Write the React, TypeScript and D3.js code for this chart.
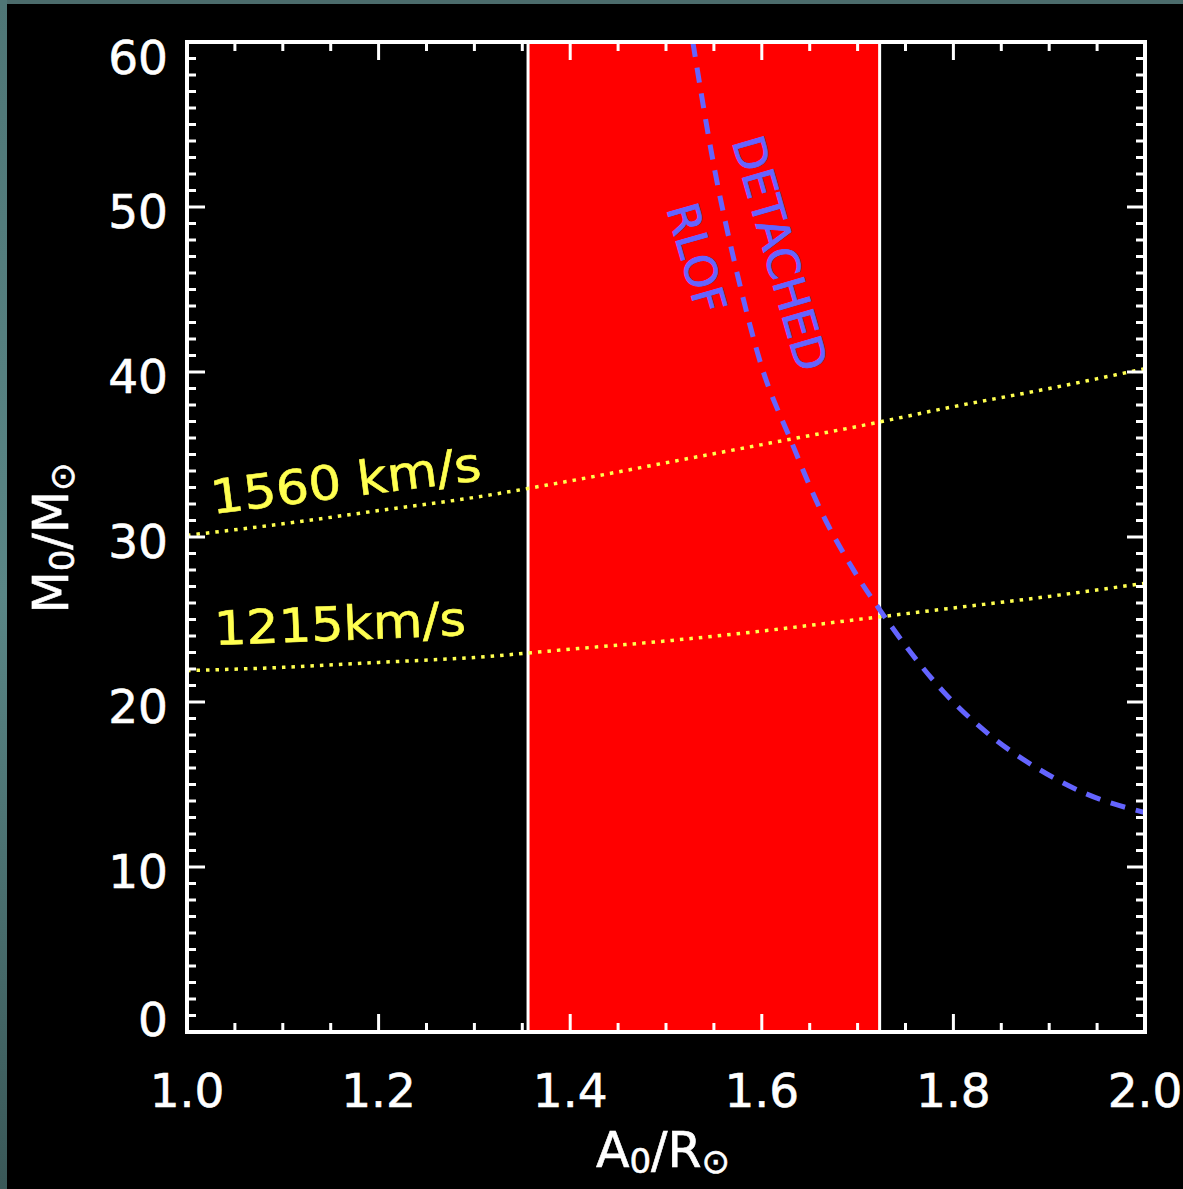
import React from "react";
import * as d3 from "d3";

const W = 1183;
const H = 1189;

const X_DOMAIN = [1.0, 2.0];
const Y_DOMAIN = [0, 60];
const xTickValues = [1.0, 1.2, 1.4, 1.6, 1.8, 2.0];
const xTickLabels = ["1.0", "1.2", "1.4", "1.6", "1.8", "2.0"];
const yTickValues = [0, 10, 20, 30, 40, 50, 60];
const yTickLabels = ["0", "10", "20", "30", "40", "50", "60"];

const bandEdges = [1.356, 1.723];

const velA = [1.0, 1.1, 1.2, 1.3, 1.4, 1.5, 1.6, 1.7, 1.8, 1.9, 2.0];
const vel1560M = [30.1, 30.8, 31.6, 32.4, 33.4, 34.5, 35.6, 36.7, 37.9, 39.0, 40.2];
const vel1215M = [21.9, 22.1, 22.4, 22.7, 23.2, 23.7, 24.3, 25.0, 25.7, 26.4, 27.2];

const rlofA = [1.528, 1.55, 1.575, 1.6, 1.63, 1.66, 1.7, 1.723, 1.79, 1.84, 1.89, 1.94, 2.0];
const rlofM = [60, 52.5, 45.8, 40.3, 35.9, 31.8, 27.6, 25.6, 20.6, 17.9, 15.9, 14.4, 13.3];

const FONT = "'DejaVu Sans', sans-serif";
const YELLOW = "#ffff50";
const BLUE = "#6464ff";

export default function App() {
  const x = d3.scaleLinear().domain(X_DOMAIN).range([187, 1145]);
  const y = d3.scaleLinear().domain(Y_DOMAIN).range([1032, 42]);
  const [x0, x1] = x.range();
  const [y0, y1] = y.range();

  const line = d3
    .line<[number, number]>()
    .x((d) => x(d[0]))
    .y((d) => y(d[1]))
    .curve(d3.curveMonotoneX);

  const p1560 = line(velA.map((a, i) => [a, vel1560M[i]] as [number, number])) || "";
  const p1215 = line(velA.map((a, i) => [a, vel1215M[i]] as [number, number])) || "";
  const pRlof = line(rlofA.map((a, i) => [a, rlofM[i]] as [number, number])) || "";

  const xMinor = d3.range(0, 21).map((i) => X_DOMAIN[0] + i * 0.05);
  const yMinor = d3.range(0, 61).map((i) => i);

  const MAJ = 18;
  const MIN = 9;

  const isMajorX = (v: number) => Math.abs(v * 5 - Math.round(v * 5)) < 1e-6;
  const isMajorY = (v: number) => v % 10 === 0;

  return (
    <svg
      width={W}
      height={H}
      style={{ position: "absolute", left: 0, top: 0, display: "block" }}
    >
      <defs>
        <linearGradient id="edge" x1="0" y1="0" x2="0" y2="1">
          <stop offset="0" stopColor="#4f7676" />
          <stop offset="0.5" stopColor="#5a8686" />
          <stop offset="1" stopColor="#3a5858" />
        </linearGradient>
        <clipPath id="plotClip">
          <rect x={x0} y={y1} width={x1 - x0} height={y0 - y1} />
        </clipPath>
      </defs>
      <rect x={0} y={0} width={W} height={H} fill="#000" />
      <rect x={0} y={0} width={W} height={4} fill="#4b6b6b" />
      <rect x={0} y={0} width={7} height={H} fill="url(#edge)" />

      {/* red band */}
      <rect
        x={x(bandEdges[0])}
        y={y1}
        width={x(bandEdges[1]) - x(bandEdges[0])}
        height={y0 - y1}
        fill="#ff0000"
      />
      {bandEdges.map((b, i) => (
        <line key={i} x1={x(b)} x2={x(b)} y1={y1} y2={y0} stroke="#fff" strokeWidth={3} />
      ))}

      <g clipPath="url(#plotClip)">
        <path d={p1560} fill="none" stroke={YELLOW} strokeWidth={3.5} strokeDasharray="3.5,6" />
        <path d={p1215} fill="none" stroke={YELLOW} strokeWidth={3.5} strokeDasharray="3.5,6" />
        <path d={pRlof} fill="none" stroke={BLUE} strokeWidth={5} strokeDasharray="15,11" />
      </g>

      {/* annotations */}
      <text
        transform={`translate(${x(1.619)},${y(47.2)}) rotate(74)`}
        textAnchor="middle"
        dominantBaseline="central"
        fill={BLUE}
        fontFamily={FONT}
        fontSize={44}
        stroke={BLUE}
        strokeWidth={0.8}
        textLength={242}
        lengthAdjust="spacingAndGlyphs"
      >
        DETACHED
      </text>
      <text
        transform={`translate(${x(1.532)},${y(46.9)}) rotate(74)`}
        textAnchor="middle"
        dominantBaseline="central"
        fill={BLUE}
        fontFamily={FONT}
        fontSize={44}
        stroke={BLUE}
        strokeWidth={0.8}
        textLength={112}
        lengthAdjust="spacingAndGlyphs"
      >
        RLOF
      </text>
      <text
        transform={`translate(${x(1.027)},${y(31.4)}) rotate(-7.2)`}
        fill={YELLOW}
        fontFamily={FONT}
        fontSize={47}
        stroke={YELLOW}
        strokeWidth={0.6}
        textLength={272}
        lengthAdjust="spacingAndGlyphs"
      >
        1560 km/s
      </text>
      <text
        transform={`translate(${x(1.029)},${y(23.45)}) rotate(-2.3)`}
        fill={YELLOW}
        fontFamily={FONT}
        fontSize={47}
        stroke={YELLOW}
        strokeWidth={0.6}
        textLength={252}
        lengthAdjust="spacingAndGlyphs"
      >
        1215km/s
      </text>

      {/* frame */}
      <rect x={x0} y={y1} width={x1 - x0} height={y0 - y1} fill="none" stroke="#fff" strokeWidth={4} />

      {/* x ticks bottom & top */}
      {xMinor.map((v, i) => {
        const len = isMajorX(v) ? MAJ : MIN;
        return (
          <g key={i}>
            <line x1={x(v)} x2={x(v)} y1={y0} y2={y0 - len} stroke="#fff" strokeWidth={3} />
            <line x1={x(v)} x2={x(v)} y1={y1} y2={y1 + len} stroke="#fff" strokeWidth={3} />
          </g>
        );
      })}
      {/* y ticks left & right */}
      {yMinor.map((v, i) => {
        const len = isMajorY(v) ? MAJ : MIN;
        return (
          <g key={i}>
            <line x1={x0} x2={x0 + len} y1={y(v)} y2={y(v)} stroke="#fff" strokeWidth={3} />
            <line x1={x1} x2={x1 - len} y1={y(v)} y2={y(v)} stroke="#fff" strokeWidth={3} />
          </g>
        );
      })}

      {/* tick labels */}
      {xTickValues.map((v, i) => (
        <text
          key={i}
          x={x(v)}
          y={1107}
          textAnchor="middle"
          fill="#fff"
          stroke="#fff"
          strokeWidth={0.6}
          fontFamily={FONT}
          fontSize={47}
        >
          {xTickLabels[i]}
        </text>
      ))}
      {yTickValues.map((v, i) => {
        const off = v === Y_DOMAIN[1] ? 15 : v === Y_DOMAIN[0] ? -13 : 4;
        return (
          <text
            key={i}
            x={168}
            y={y(v) + off}
            textAnchor="end"
            dominantBaseline="central"
            fill="#fff"
            stroke="#fff"
            strokeWidth={0.6}
            fontFamily={FONT}
            fontSize={47}
          >
            {yTickLabels[i]}
          </text>
        );
      })}

      {/* axis titles */}
      <text
        x={663}
        y={1167}
        textAnchor="middle"
        fill="#fff"
        stroke="#fff"
        strokeWidth={0.6}
        fontFamily={FONT}
        fontSize={49}
      >
        <tspan>A</tspan>
        <tspan fontSize={34} dy={6}>0</tspan>
        <tspan dy={-6}>/R</tspan>
        <tspan fontSize={34} dy={6}>⊙</tspan>
      </text>
      <text
        transform="translate(68,538) rotate(-90)"
        textAnchor="middle"
        fill="#fff"
        stroke="#fff"
        strokeWidth={0.6}
        fontFamily={FONT}
        fontSize={49}
      >
        <tspan>M</tspan>
        <tspan fontSize={34} dy={6}>0</tspan>
        <tspan dy={-6}>/M</tspan>
        <tspan fontSize={34} dy={6}>⊙</tspan>
      </text>
    </svg>
  );
}
